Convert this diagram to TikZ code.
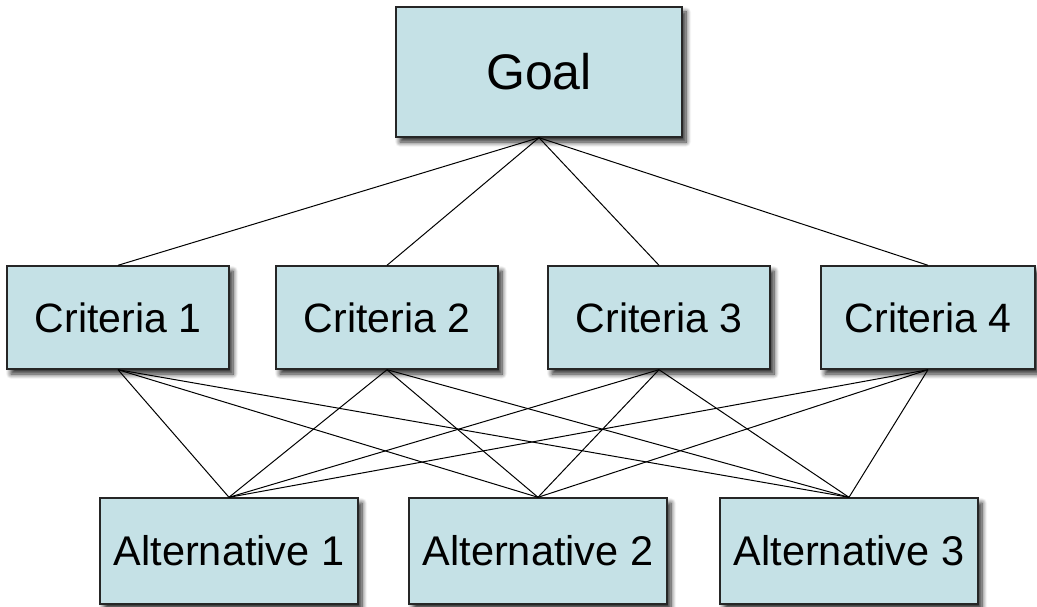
\documentclass[tikz,border=0pt]{standalone}
\usepackage{fontspec}
\setmainfont{Liberation Sans}
\usetikzlibrary{shadows.blur}
\definecolor{boxfill}{HTML}{C5E1E6}
\begin{document}
\begin{tikzpicture}[x=1pt,y=-1pt,
  box/.style={draw=black!85, line width=1.4pt, fill=boxfill, inner sep=0pt,
    blur shadow={shadow xshift=4pt, shadow yshift=-5pt, shadow blur steps=8, shadow opacity=85, shadow blur radius=5pt}},
  goalbox/.style={box, minimum width=286pt, minimum height=130pt, font=\fontsize{50}{50}\selectfont},
  critbox/.style={box, minimum width=222pt, minimum height=103pt, font=\fontsize{41}{41}\selectfont},
  altbox/.style={box, minimum width=258pt, minimum height=106pt, font=\fontsize{41.5}{41.5}\selectfont},
  link/.style={line width=1pt, black}]
\useasboundingbox (0,0) rectangle (1037,607);
\node[goalbox] (g) at (539,72) {Goal};
\node[critbox] (c1) at (118,317.5) {Criteria 1};
\node[critbox] (c2) at (387,317.5) {Criteria 2};
\node[critbox] (c3) at (659,317.5) {Criteria 3};
\node[critbox, minimum width=214pt] (c4) at (928,317.5) {Criteria 4};
\node[altbox] (a1) at (229,551) {Alternative 1};
\node[altbox] (a2) at (538,551) {Alternative 2};
\node[altbox] (a3) at (849,551) {Alternative 3};
\foreach \c in {c1,c2,c3,c4} {
  \draw[link] (g.south) -- (\c.north);
}
\foreach \c in {c1,c2,c3,c4} {
  \foreach \a in {a1,a2,a3} {
    \draw[link] (\c.south) -- (\a.north);
  }
}
\end{tikzpicture}
\end{document}
